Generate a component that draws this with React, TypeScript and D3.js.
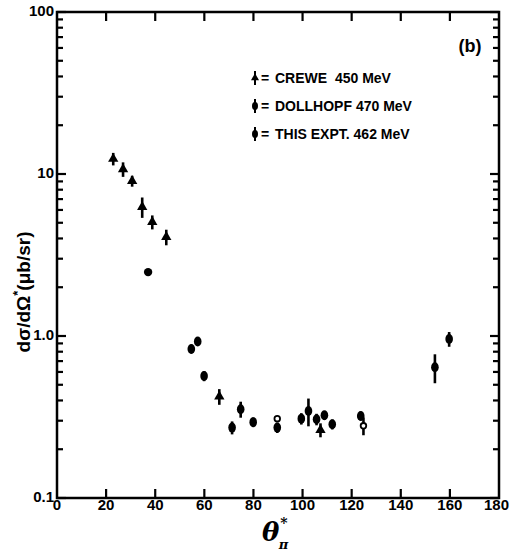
import React, { useEffect, useRef } from "react";
import * as d3 from "d3";

// angle (deg), dσ/dΩ (μb/sr), error (±)
const creweAngle = [22.9, 26.9, 30.6, 34.7, 38.8, 44.5, 66.1, 107.3];
const creweValue = [12.4, 10.7, 9.05, 6.26, 5.05, 4.08, 0.423, 0.263];
const creweErr = [1.1, 1.1, 0.7, 0.9, 0.5, 0.45, 0.047, 0.026];

const dollAngle = [54.7, 57.3, 59.9, 71.3, 74.8, 79.9, 89.7, 99.5, 102.4, 105.7, 108.9, 112.1, 123.7, 153.9, 159.7];
const dollValue = [0.832, 0.925, 0.566, 0.272, 0.353, 0.294, 0.272, 0.309, 0.344, 0.306, 0.324, 0.285, 0.321, 0.641, 0.958];
const dollErr = [0.05, 0.05, 0.04, 0.025, 0.04, 0.02, 0.02, 0.025, 0.067, 0.025, 0.02, 0.02, 0.02, 0.13, 0.1];

const exptAngle = [37.1];
const exptValue = [2.48];
const exptErr = [0];

const openAngle = [89.7, 124.8];
const openValue = [0.309, 0.279];
const openErr = [0, 0.035];

const xTicks = [0, 20, 40, 60, 80, 100, 120, 140, 160, 180];
const yTicks = [0.1, 1, 10, 100];
const yTickLabels = ["0.1", "1.0", "10", "100"];
const legendLabels = ["CREWE  450 MeV", "DOLLHOPF 470 MeV", "THIS EXPT. 462 MeV"];

export default function App() {
  const svgRef = useRef<SVGSVGElement>(null);

  useEffect(() => {
    const svg = d3.select(svgRef.current);
    svg.selectAll("*").remove();
    const left = 57, right = 499, top = 12, bottom = 498;
    const font = "'Liberation Sans', Arial, sans-serif";

    const x = d3.scaleLinear().domain([0, 180]).range([left, right]);
    const y = d3.scaleLog().domain([0.1, 100]).range([bottom, top]);

    const g = svg.append("g");

    // frame
    g.append("rect")
      .attr("x", left).attr("y", top)
      .attr("width", right - left).attr("height", bottom - top)
      .attr("fill", "none").attr("stroke", "black").attr("stroke-width", 2.5);

    // x ticks, bottom and top, inside
    xTicks.slice(1, -1).forEach((t) => {
      g.append("line").attr("x1", x(t)).attr("x2", x(t)).attr("y1", bottom).attr("y2", bottom - 9)
        .attr("stroke", "black").attr("stroke-width", 2.2);
      g.append("line").attr("x1", x(t)).attr("x2", x(t)).attr("y1", top).attr("y2", top + 9)
        .attr("stroke", "black").attr("stroke-width", 2.2);
    });

    // y ticks (log minor + major), both sides
    const allY: number[] = [];
    [0.1, 1, 10].forEach((d) => { for (let k = 1; k <= 9; k++) allY.push(d * k); });
    allY.push(100);
    allY.forEach((v) => {
      const major = yTicks.some((t) => Math.abs(t - v) < 1e-9);
      const len = major ? 9 : 6;
      g.append("line").attr("x1", left).attr("x2", left + len).attr("y1", y(v)).attr("y2", y(v))
        .attr("stroke", "black").attr("stroke-width", 2.2);
      g.append("line").attr("x1", right).attr("x2", right - len).attr("y1", y(v)).attr("y2", y(v))
        .attr("stroke", "black").attr("stroke-width", 2.2);
    });

    // tick labels (last one kept inside the page edge)
    g.selectAll(".xt").data(xTicks).join("text")
      .attr("x", (d, i) => (i === xTicks.length - 1 ? 509 : x(d)))
      .attr("y", bottom + 12)
      .attr("text-anchor", (d, i) => (i === xTicks.length - 1 ? "end" : "middle"))
      .attr("font-family", font).attr("font-weight", "bold").attr("font-size", 15)
      .text((d) => `${d}`);
    g.selectAll(".yt").data(yTicks).join("text")
      .attr("x", left - 3).attr("y", (d) => y(d) + 4)
      .attr("text-anchor", "end")
      .attr("font-family", font).attr("font-weight", "bold").attr("font-size", 15)
      .text((d, i) => yTickLabels[i]);

    // markers
    const triangle = d3.symbol().type(d3.symbolTriangle).size(46);
    function drawSeries(ang: number[], val: number[], err: number[], kind: string) {
      ang.forEach((a, i) => {
        const cx = x(a), cy = y(val[i]);
        if (err[i] > 0) {
          g.append("line").attr("x1", cx).attr("x2", cx)
            .attr("y1", y(val[i] + err[i])).attr("y2", y(val[i] - err[i]))
            .attr("stroke", "black").attr("stroke-width", 2.6);
        }
        if (kind === "tri") {
          g.append("path").attr("d", triangle).attr("transform", `translate(${cx},${cy})`).attr("fill", "black");
        } else if (kind === "oval") {
          g.append("ellipse").attr("cx", cx).attr("cy", cy).attr("rx", 3.8).attr("ry", 5).attr("fill", "black");
        } else if (kind === "dot") {
          g.append("circle").attr("cx", cx).attr("cy", cy).attr("r", 4.2).attr("fill", "black");
        } else {
          g.append("circle").attr("cx", cx).attr("cy", cy).attr("r", 2.8)
            .attr("fill", "white").attr("stroke", "black").attr("stroke-width", 1.8);
        }
      });
    }
    drawSeries(creweAngle, creweValue, creweErr, "tri");
    drawSeries(dollAngle, dollValue, dollErr, "oval");
    drawSeries(exptAngle, exptValue, exptErr, "dot");
    drawSeries(openAngle, openValue, openErr, "open");

    // legend
    const kinds = ["tri", "oval", "dot"];
    legendLabels.forEach((lab, i) => {
      const ly = 78 + i * 28;
      const lx = 255;
      g.append("line").attr("x1", lx).attr("x2", lx).attr("y1", ly - 7).attr("y2", ly + 7)
        .attr("stroke", "black").attr("stroke-width", 2);
      if (kinds[i] === "tri") {
        g.append("path").attr("d", d3.symbol().type(d3.symbolTriangle).size(28)).attr("transform", `translate(${lx},${ly})`);
      } else {
        g.append("ellipse").attr("cx", lx).attr("cy", ly).attr("rx", 3).attr("ry", 4);
      }
      g.append("text").attr("x", lx + 6).attr("y", ly + 5)
        .attr("font-family", font).attr("font-weight", "bold").attr("font-size", 14)
        .text("=");
      g.append("text").attr("x", lx + 20).attr("y", ly + 5)
        .attr("font-family", font).attr("font-weight", "bold").attr("font-size", 14)
        .attr("xml:space", "preserve")
        .text(lab);
    });

    g.append("text").attr("x", 470).attr("y", 52).attr("text-anchor", "middle")
      .attr("font-family", font).attr("font-weight", "bold").attr("font-size", 18)
      .text("(b)");

    // y label
    const yl = g.append("text")
      .attr("transform", "translate(30,292) rotate(-90)")
      .attr("text-anchor", "middle")
      .attr("font-family", font).attr("font-weight", "bold").attr("font-size", 19);
    yl.append("tspan").text("dσ/dΩ");
    yl.append("tspan").attr("dy", -8).attr("font-size", 13).text("*");
    yl.append("tspan").attr("dy", 8).text("(μb/sr)");

    // x label
    const xl = g.append("text").attr("x", 262).attr("y", 541)
      .attr("font-family", "'DejaVu Serif', serif").attr("font-style", "italic").attr("font-weight", "bold").attr("font-size", 26);
    xl.append("tspan").text("θ");
    xl.append("tspan").attr("dx", 1).attr("dy", -13).attr("font-size", 14).attr("font-style", "normal").text("*");
    xl.append("tspan").attr("dx", -9).attr("dy", 21).attr("font-size", 13).text("π");
  }, []);

  return (
    <svg
      ref={svgRef}
      width={510}
      height={558}
      style={{ position: "absolute", left: 0, top: 0, background: "white" }}
    />
  );
}
